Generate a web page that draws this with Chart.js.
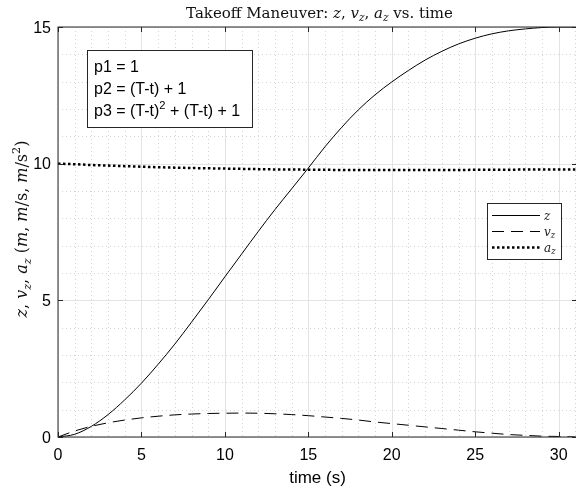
<!DOCTYPE html>
<html><head><meta charset="utf-8">
<script src="https://cdn.jsdelivr.net/npm/chart.js@4.4.0/dist/chart.umd.min.js"></script>
<style>
html,body{margin:0;padding:0;overflow:hidden;background:#fff;width:576px;height:489px}
#wrap{position:absolute;left:0;top:0;width:580px;height:489px}
</style>
</head><body>
<div id="wrap"><canvas id="c" width="580" height="489"></canvas></div>
<script>
// ---- data ----
const time = [0,1,2,3,4,5,6,7,8,9,10,11,12,13,14,15,16,17,18,19,20,21,22,23,24,25,26,27,28,29,30,31];
const zPos = [0,0.10,0.39,0.82,1.36,1.97,2.66,3.40,4.20,5.02,5.86,6.69,7.52,8.32,9.08,9.84,10.62,11.33,11.97,12.52,12.99,13.41,13.79,14.11,14.38,14.59,14.75,14.86,14.93,14.98,15.0,15.0];
const vz   = [0,0.22,0.39,0.52,0.62,0.70,0.76,0.81,0.84,0.86,0.87,0.875,0.87,0.85,0.82,0.78,0.73,0.68,0.62,0.55,0.49,0.43,0.37,0.31,0.25,0.19,0.14,0.09,0.06,0.03,0.02,0.0];
const az   = [10.0,9.98,9.95,9.93,9.91,9.89,9.87,9.855,9.84,9.83,9.82,9.81,9.80,9.79,9.785,9.78,9.775,9.77,9.77,9.765,9.765,9.765,9.765,9.77,9.77,9.775,9.78,9.78,9.785,9.79,9.79,9.79];
const xTicks = [0,5,10,15,20,25,30];
const yTicks = [0,5,10,15];
const seriesNames = ['z','v_z','a_z'];
const noteLines = [
  [{t:'p1 = 1'}],
  [{t:'p2 = (T-t) + 1'}],
  [{t:'p3 = (T-t)'},{t:'2',sup:1},{t:' + (T-t) + 1'}]
];
const titleRuns = [{t:'Takeoff Maneuver: '},{t:'z',i:1},{t:', '},{t:'v',i:1},{t:'z',i:1,sub:1},{t:', '},{t:'a',i:1},{t:'z',i:1,sub:1},{t:' vs. time'}];
const yTitleRuns = [{t:'z',i:1},{t:', '},{t:'v',i:1},{t:'z',i:1,sub:1},{t:', '},{t:'a',i:1},{t:'z',i:1,sub:1},{t:' ('},{t:'m',i:1},{t:', '},{t:'m',i:1},{t:'/'},{t:'s'},{t:', '},{t:'m',i:1},{t:'/'},{t:'s'},{t:'2',sup:1},{t:')'}];
const legendRuns = [[{t:'z',i:1}],[{t:'v',i:1},{t:'z',i:1,sub:1}],[{t:'a',i:1},{t:'z',i:1,sub:1}]];
const xTitle = 'time (s)';

const SERIF = '"DejaVu Serif","Liberation Serif",serif';
const SANS = '"Liberation Sans",Arial,sans-serif';
const AXC = '#262626';

function runFont(r, size, fam){
  const s = (r.sub||r.sup) ? size*0.7 : size;
  return (r.i?'italic ':'') + s + 'px ' + fam;
}
function runsWidth(ctx, runs, size, fam){
  let w=0; for(const r of runs){ctx.font=runFont(r,size,fam); w+=ctx.measureText(r.t).width;} return w;
}
function drawRuns(ctx, runs, x, y, size, fam, align){
  const w = runsWidth(ctx, runs, size, fam);
  let cx = align==='center' ? x - w/2 : x;
  ctx.textBaseline='alphabetic'; ctx.textAlign='left';
  for(const r of runs){
    ctx.font=runFont(r,size,fam);
    let dy = r.sub ? size*0.22 : (r.sup ? -size*0.42 : 0);
    ctx.fillText(r.t, cx, y+dy);
    cx += ctx.measureText(r.t).width;
  }
}

const framePlugin = {
  id:'frame',
  beforeDatasetsDraw(chart){
    const {ctx, chartArea:a, scales:{x,y}} = chart;
    ctx.save();
    ctx.strokeStyle='#d4d4d4'; ctx.lineWidth=1; ctx.setLineDash([1,3]);
    for(let v=Math.ceil(x.min); v<=x.max; v++){ if(v%5===0) continue;
      const px=Math.round(x.getPixelForValue(v))+0.5;
      ctx.beginPath(); ctx.moveTo(px,a.top); ctx.lineTo(px,a.bottom); ctx.stroke(); }
    for(let v=Math.ceil(y.min); v<=y.max; v++){ if(v%5===0) continue;
      const py=Math.round(y.getPixelForValue(v))+0.5;
      ctx.beginPath(); ctx.moveTo(a.left,py); ctx.lineTo(a.right,py); ctx.stroke(); }
    ctx.setLineDash([]); ctx.strokeStyle='#e3e3e3';
    for(const v of xTicks){ const px=Math.round(x.getPixelForValue(v))+0.5;
      ctx.beginPath(); ctx.moveTo(px,a.top); ctx.lineTo(px,a.bottom); ctx.stroke(); }
    for(const v of yTicks){ const py=Math.round(y.getPixelForValue(v))+0.5;
      ctx.beginPath(); ctx.moveTo(a.left,py); ctx.lineTo(a.right,py); ctx.stroke(); }
    ctx.restore();
  },
  afterDatasetsDraw(chart){
    const {ctx, chartArea:a, scales:{x,y}} = chart;
    ctx.save();
    ctx.strokeStyle=AXC; ctx.lineWidth=1; ctx.setLineDash([]);
    ctx.strokeRect(a.left, a.top, a.right-a.left, a.bottom-a.top);
    const tl=5;
    ctx.beginPath();
    for(const v of xTicks){ const px=Math.round(x.getPixelForValue(v))+0.5;
      ctx.moveTo(px,a.bottom); ctx.lineTo(px,a.bottom-tl);
      ctx.moveTo(px,a.top); ctx.lineTo(px,a.top+tl); }
    for(const v of yTicks){ const py=Math.round(y.getPixelForValue(v))+0.5;
      ctx.moveTo(a.left,py); ctx.lineTo(a.left+tl,py);
      ctx.moveTo(a.right,py); ctx.lineTo(a.right-tl,py); }
    ctx.stroke();

    // tick labels
    ctx.fillStyle='#000'; ctx.font='16px '+SANS; ctx.textBaseline='alphabetic';
    ctx.textAlign='center';
    for(const v of xTicks) ctx.fillText(String(v), x.getPixelForValue(v), 460);
    ctx.textAlign='right';
    for(const v of yTicks) ctx.fillText(String(v), a.left-7, y.getPixelForValue(v)+5.5);

    // annotation box
    ctx.fillStyle='#fff'; ctx.fillRect(87.5,50.5,165,77);
    ctx.strokeStyle='#262626'; ctx.strokeRect(87.5,50.5,165,77);
    ctx.fillStyle='#000';
    const base=[72,93.5,115.5];
    noteLines.forEach((ln,k)=>drawRuns(ctx, ln, 94, base[k], 16, SANS, 'left'));

    // legend
    ctx.fillStyle='#fff'; ctx.fillRect(487.5,203.5,74,56);
    ctx.strokeStyle='#262626'; ctx.lineWidth=1; ctx.strokeRect(487.5,203.5,74,56);
    const rows=[215.5,231.5,247.5];
    chart.data.datasets.forEach((ds,k)=>{
      ctx.strokeStyle=ds.borderColor; ctx.lineWidth=ds.borderWidth; ctx.setLineDash(ds.borderDash||[]);
      ctx.beginPath(); ctx.moveTo(492,rows[k]); ctx.lineTo(540,rows[k]); ctx.stroke();
      ctx.setLineDash([]); ctx.fillStyle='#222';
      drawRuns(ctx, legendRuns[k], 544, rows[k]+4, 12, SERIF, 'left');
    });

    // title
    ctx.fillStyle='#111';
    drawRuns(ctx, titleRuns, (a.left+a.right)/2 + 2, 18, 15, SERIF, 'center');
    // x title
    ctx.fillStyle='#000';
    ctx.font='17px '+SANS; ctx.textAlign='center'; ctx.textBaseline='alphabetic';
    ctx.fillText(xTitle, (a.left+a.right)/2, 483);
    // y title
    ctx.save();
    ctx.fillStyle='#111';
    ctx.translate(27, (a.top+a.bottom)/2 - 3);
    ctx.rotate(-Math.PI/2);
    drawRuns(ctx, yTitleRuns, 0, 0, 16, SERIF, 'center');
    ctx.restore();
    ctx.restore();
  }
};

const pts = arr => time.map((t,i)=>({x:t, y:arr[i]}));

new Chart(document.getElementById('c'), {
  type:'line',
  data:{ datasets:[
    {label:seriesNames[0], data:pts(zPos), borderColor:'#000', borderWidth:1, pointRadius:0, cubicInterpolationMode:'monotone', fill:false},
    {label:seriesNames[1], data:pts(vz), borderColor:'#000', borderWidth:1, borderDash:[12,7], pointRadius:0, cubicInterpolationMode:'monotone', fill:false},
    {label:seriesNames[2], data:pts(az), borderColor:'#000', borderWidth:2.5, borderDash:[2.5,2.5], borderCapStyle:'butt', pointRadius:0, cubicInterpolationMode:'monotone', fill:false}
  ]},
  options:{
    responsive:false, animation:false, devicePixelRatio:1,
    layout:{padding:{top:27,right:3,left:0,bottom:0}},
    plugins:{legend:{display:false}, title:{display:false}, tooltip:{enabled:false}},
    scales:{
      x:{type:'linear', min:0, max:31.1,
         afterBuildTicks:s=>{s.ticks=xTicks.map(v=>({value:v}));},
         afterFit:s=>{s.height=52;},
         ticks:{display:false},
         grid:{display:false}, border:{display:false}},
      y:{type:'linear', min:0, max:15,
         afterBuildTicks:s=>{s.ticks=yTicks.map(v=>({value:v}));},
         afterFit:s=>{s.width=58;},
         ticks:{display:false},
         grid:{display:false}, border:{display:false}}
    }
  },
  plugins:[framePlugin]
});
</script>
</body></html>
